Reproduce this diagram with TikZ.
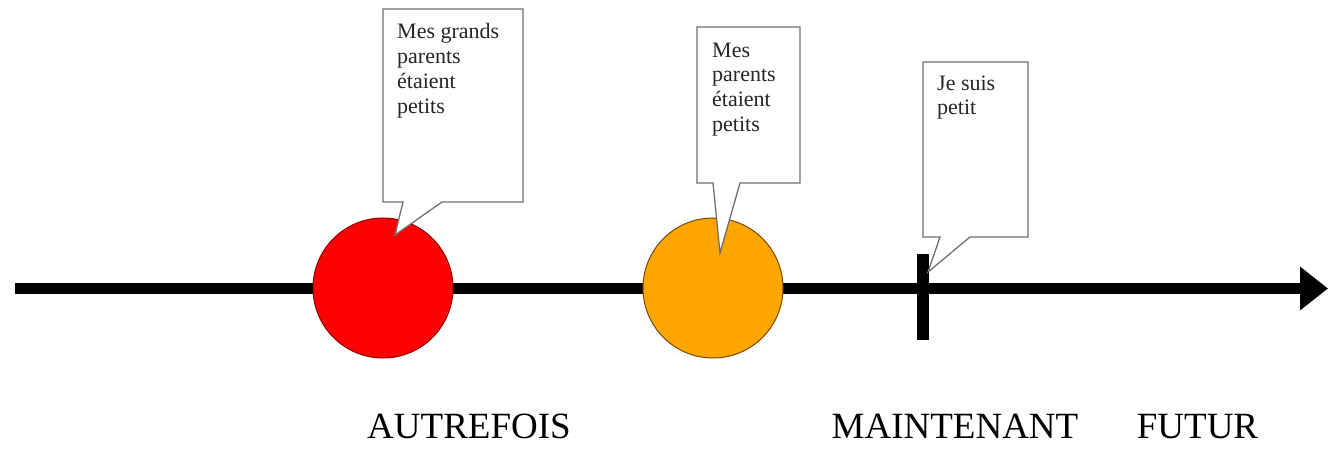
\documentclass[tikz,border=0pt]{standalone}
\usepackage{fontspec}
\setmainfont{Liberation Serif}
\usetikzlibrary{arrows.meta}
\definecolor{myred}{HTML}{FF0000}
\definecolor{myorange}{HTML}{FFA500}
\definecolor{callgray}{HTML}{707070}
\tikzset{
  axisline/.style={line width=11pt, -{Triangle[length=28pt,width=42pt]}},
  dot/.style={circle, minimum size=140pt, inner sep=0pt, line width=1pt},
  bubble/.style={fill=white, draw=callgray, line width=1.3pt, line join=miter},
  bubbletext/.style={anchor=north west, inner sep=0pt, align=left, text=black!85,
    font=\fontsize{22}{24.7}\selectfont},
  period/.style={anchor=base, inner sep=0pt, font=\fontsize{37}{40}\selectfont},
  ticknode/.style={fill=black, minimum width=12pt, minimum height=86pt, inner sep=0pt}
}
\begin{document}
\begin{tikzpicture}[x=1pt,y=-1pt]
\useasboundingbox (0,0) rectangle (1328,449);
% axis
\coordinate (start) at (15,288.5);
\coordinate (end) at (1328,288.5);
\draw[axisline] (start) -- (end);
% circles
\node[dot, fill=myred, draw=myred!55!black] (grand) at (383,288) {};
\node[dot, fill=myorange, draw=myorange!45!black] (parent) at (713,288) {};
% tick
\node[ticknode] (now) at (923,297) {};
% pointer tips
\coordinate (tipA) at (395,235);
\coordinate (tipB) at (720,253);
\coordinate (tipC) at (928,272);
% callouts
\draw[bubble] (383,9) -- (523,9) -- (523,202) -- (442,202) -- (tipA) -- (403,202) -- (383,202) -- cycle;
\draw[bubble] (697,27) -- (800,27) -- (800,183) -- (740,183) -- (tipB) -- (713,183) -- (697,183) -- cycle;
\draw[bubble] (923,62) -- (1028,62) -- (1028,237) -- (970,237) -- (tipC) -- (940,237) -- (923,237) -- cycle;
% callout texts
\node[bubbletext] (tA) at (397,23.5) {Mes grands\\parents\\étaient\\petits};
\node[bubbletext] (tB) at (712,42.5) {Mes\\parents\\étaient\\petits};
\node[bubbletext] (tC) at (937,75.5) {Je suis\\petit};
% period labels
\node[period] (autrefois) at (469,438) {AUTREFOIS};
\node[period] (maintenant) at (955,438) {MAINTENANT};
\node[period] (futur) at (1197.5,438) {FUTUR};
\end{tikzpicture}
\end{document}
